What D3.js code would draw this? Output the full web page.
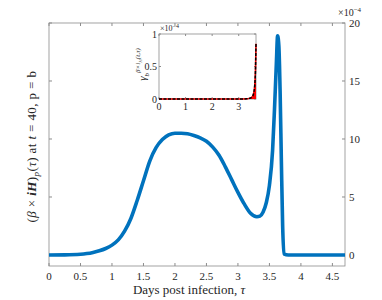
<!doctype html>
<html>
<head>
<script src="https://d3js.org/d3.v7.min.js"></script>
<style>
  body { margin: 0; background: #fff; }
  text { font-family: "Liberation Serif", "DejaVu Serif", serif; fill: #262626; }
</style>
</head>
<body>
<svg width="382" height="300"></svg>
<script>
// main curve, values in units of 1e-4
var tau = [0, 0.25, 0.5, 0.6, 0.7, 0.8, 0.9, 1.0, 1.1, 1.2, 1.3, 1.4, 1.5, 1.6, 1.7, 1.8, 1.9, 2.0, 2.1, 2.2, 2.3, 2.4, 2.5, 2.6, 2.7, 2.8, 2.9, 3.0, 3.1, 3.2, 3.3, 3.35, 3.4, 3.45, 3.5, 3.55, 3.58, 3.61, 3.63, 3.65, 3.67, 3.69, 3.71, 3.73, 3.8, 4.0, 4.7];
var rate = [0, 0.01, 0.06, 0.12, 0.22, 0.36, 0.56, 0.85, 1.3, 2.05, 3.15, 4.7, 6.4, 8.1, 9.25, 9.95, 10.35, 10.5, 10.5, 10.45, 10.3, 10.1, 9.8, 9.3, 8.6, 7.6, 6.5, 5.4, 4.4, 3.6, 3.3, 3.35, 3.7, 4.5, 6.0, 9.0, 12.5, 16.5, 18.9, 18.0, 14, 8, 2.5, 0.1, 0, 0, 0];

// inset curve
var tauIn = [0, 0.5, 1.0, 1.5, 2.0, 2.5, 3.0, 3.3, 3.4, 3.5, 3.55, 3.6, 3.63, 3.65];
var gammaIn = [0, 0, 0, 0, 0, 0, 0, 0.003, 0.01, 0.03, 0.07, 0.2, 0.45, 0.85];

var xTicks = [0, 0.5, 1, 1.5, 2, 2.5, 3, 3.5, 4, 4.5];
var yTicks = [0, 5, 10, 15, 20];
var xTicksIn = [0, 1, 2, 3];
var yTicksIn = [0, 0.5, 1];

var svg = d3.select("svg");
var L = 49, R = 345, T = 23, B = 266;

var x = d3.scaleLinear().domain([0, 4.7]).range([L, R]);
var y = d3.scaleLinear().domain([-0.95, 20]).range([B, T]);

var boxCol = "#8c8c8c";

// box
svg.append("rect").attr("x", L).attr("y", T).attr("width", R - L).attr("height", B - T)
   .attr("fill", "none").attr("stroke", boxCol).attr("stroke-width", 0.8);

// x ticks bottom + top
var gx = svg.append("g");
xTicks.forEach(function(t) {
    gx.append("line").attr("x1", x(t)).attr("x2", x(t)).attr("y1", B).attr("y2", B - 3).attr("stroke", boxCol);
    gx.append("line").attr("x1", x(t)).attr("x2", x(t)).attr("y1", T).attr("y2", T + 3).attr("stroke", boxCol);
    gx.append("text").attr("x", x(t)).attr("y", B + 14).attr("text-anchor", "middle")
      .attr("font-size", "11px").text(t);
});

// y ticks left + right, labels on right
var gy = svg.append("g");
yTicks.forEach(function(t) {
    gy.append("line").attr("x1", L).attr("x2", L + 3).attr("y1", y(t)).attr("y2", y(t)).attr("stroke", boxCol);
    gy.append("line").attr("x1", R).attr("x2", R - 3).attr("y1", y(t)).attr("y2", y(t)).attr("stroke", boxCol);
    gy.append("text").attr("x", R + 4).attr("y", y(t) + 4).attr("font-size", "11px").text(t);
});

// exponent label
var ex = svg.append("text").attr("x", R - 7).attr("y", 16).attr("font-size", "10px");
ex.append("tspan").text("×10");
ex.append("tspan").attr("dy", -4).attr("font-size", "7px").text("−4");

// main curve
var line = d3.line().x(function(d) { return x(d[0]); }).y(function(d) { return y(d[1]); })
    .curve(d3.curveMonotoneX);
svg.append("path").datum(d3.zip(tau, rate)).attr("d", line)
   .attr("fill", "none").attr("stroke", "#0072BD").attr("stroke-width", 3.6)
   .attr("stroke-linejoin", "round");

// axis labels
svg.append("text").attr("x", (L + R) / 2 - 8).attr("y", 294).attr("text-anchor", "middle")
   .attr("font-size", "13px")
   .html('Days post infection, <tspan font-style="italic">τ</tspan>');

var yl = svg.append("text").attr("transform", "translate(36," + ((T + B) / 2 + 2) + ") rotate(-90)")
   .attr("text-anchor", "middle").attr("font-size", "13px").attr("letter-spacing", "0.4px");
yl.append("tspan").text("(");
yl.append("tspan").attr("font-style", "italic").text("β");
yl.append("tspan").text(" × ");
yl.append("tspan").attr("font-style", "italic").attr("font-weight", "bold").text("iH");
yl.append("tspan").text(")");
yl.append("tspan").attr("font-style", "italic").attr("font-size", "9px").attr("dy", 3).text("p");
yl.append("tspan").attr("dy", -3).text("(");
yl.append("tspan").attr("font-style", "italic").text("τ");
yl.append("tspan").text(") at ");
yl.append("tspan").attr("font-style", "italic").text("t");
yl.append("tspan").text(" = 40, p = b");

// inset
var iL = 159, iR = 256, iT = 34, iB = 99;
var xi = d3.scaleLinear().domain([0, 3.65]).range([iL, iR]);
var yi = d3.scaleLinear().domain([0, 1]).range([iB, iT]);

svg.append("rect").attr("x", iL).attr("y", iT).attr("width", iR - iL).attr("height", iB - iT)
   .attr("fill", "#fff").attr("stroke", boxCol).attr("stroke-width", 0.8);

xTicksIn.forEach(function(t) {
    svg.append("line").attr("x1", xi(t)).attr("x2", xi(t)).attr("y1", iB).attr("y2", iB - 2).attr("stroke", boxCol);
    svg.append("line").attr("x1", xi(t)).attr("x2", xi(t)).attr("y1", iT).attr("y2", iT + 2).attr("stroke", boxCol);
    svg.append("text").attr("x", xi(t)).attr("y", iB + 11).attr("text-anchor", "middle")
       .attr("font-size", "10px").text(t);
});
yTicksIn.forEach(function(t) {
    svg.append("line").attr("x1", iL).attr("x2", iL + 2).attr("y1", yi(t)).attr("y2", yi(t)).attr("stroke", boxCol);
    svg.append("line").attr("x1", iR).attr("x2", iR - 2).attr("y1", yi(t)).attr("y2", yi(t)).attr("stroke", boxCol);
    svg.append("text").attr("x", iL - 2).attr("y", yi(t) + 3.5).attr("text-anchor", "end")
       .attr("font-size", "10px").text(t);
});

var exi = svg.append("text").attr("x", iL + 1).attr("y", iT - 3).attr("font-size", "8px");
exi.append("tspan").text("×10");
exi.append("tspan").attr("dy", -3).attr("font-size", "6px").text("−4");

var dIn = d3.zip(tauIn, gammaIn);
var areaIn = d3.area().x(function(d) { return xi(d[0]); }).y0(yi(0)).y1(function(d) { return yi(d[1]); })
    .curve(d3.curveMonotoneX);
var lineIn = d3.line().x(function(d) { return xi(d[0]); }).y(function(d) { return yi(d[1]); })
    .curve(d3.curveMonotoneX);
svg.append("path").datum(dIn).attr("d", areaIn).attr("fill", "#ff0000");
svg.append("path").datum(dIn).attr("d", lineIn).attr("fill", "none")
   .attr("stroke", "#ff0000").attr("stroke-width", 1.5);
svg.append("path").datum(dIn).attr("d", lineIn).attr("fill", "none")
   .attr("stroke", "#000").attr("stroke-width", 1.5).attr("stroke-dasharray", "3,1.5");

var yli = svg.append("text").attr("transform", "translate(146," + ((iT + iB) / 2 - 2) + ") rotate(-90)")
   .attr("text-anchor", "middle").attr("font-size", "11px");
yli.append("tspan").attr("font-style", "italic").text("γ");
yli.append("tspan").attr("font-style", "italic").attr("font-size", "7px").attr("dy", 3).text("b");
yli.append("tspan").attr("font-style", "italic").attr("font-size", "7px").attr("dy", -9).text("β×i");
yli.append("tspan").attr("font-style", "italic").attr("font-size", "5px").attr("dy", 1.5).text("H");
yli.append("tspan").attr("font-style", "italic").attr("font-size", "7px").attr("dy", -1.5).text("(t,τ)");
</script>
</body>
</html>
